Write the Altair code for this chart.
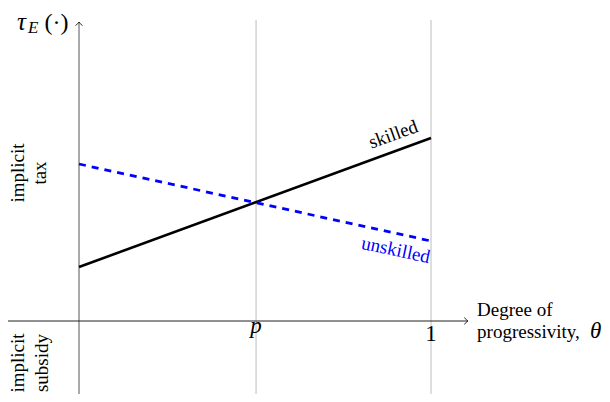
import altair as alt
import pandas as pd

# ---- data ----
theta = [0.0, 1.0]
skilled = [0.54, 1.83]
unskilled = [1.57, 0.80]
p_value = 0.503
tick_positions = [p_value, 1.0]
tick_labels = ["p", "1"]

# ---- scales (plot area 594 x 386, page 610 x 402 with 8px margin) ----
W, H = 594, 386
XMIN, XMAX = -71 / 352, (W - 71) / 352
YMIN, YMAX = -(H - 313) / 100, 313 / 100
xs = alt.Scale(domain=[XMIN, XMAX], nice=False, zero=False)
ys = alt.Scale(domain=[YMIN, YMAX], nice=False, zero=False)
SERIF = "Liberation Serif"


def X(f="x", **kw):
    return alt.X(f"{f}:Q", scale=xs, axis=None, **kw)


def Y(f="y", **kw):
    return alt.Y(f"{f}:Q", scale=ys, axis=None, **kw)


# vertical guides at p and 1
guides = alt.Chart(pd.DataFrame({"x": tick_positions, "y": [YMIN] * 2, "y2": [3.01] * 2})).mark_rule(
    color="#c8c8c8", strokeWidth=1.2
).encode(x=X(), y=Y(), y2="y2:Q")

# axes
yaxis = alt.Chart(pd.DataFrame({"x": [0.0], "y": [YMIN], "y2": [2.99]})).mark_rule(
    color="#555555", strokeWidth=1
).encode(x=X(), y=Y(), y2="y2:Q")
xaxis = alt.Chart(pd.DataFrame({"x": [XMIN], "x2": [1.105], "y": [0.0]})).mark_rule(
    color="#222222", strokeWidth=1
).encode(x=X(), x2="x2:Q", y=Y())

arrow_path = "M-1,1.1Q-0.35,0.45 0,0Q0.35,0.45 1,1.1"
arrows = alt.Chart(pd.DataFrame({"x": [0.0, 1.105], "y": [2.99, 0.0], "a": [0, 90]})).mark_point(
    shape=arrow_path, filled=False, stroke="#222222", strokeWidth=1, size=45, opacity=1
).encode(x=X(), y=Y(), angle=alt.Angle("a:Q", scale=None))

# series
df = pd.DataFrame({"theta": theta * 2, "val": skilled + unskilled,
                   "grp": ["skilled"] * 2 + ["unskilled"] * 2})
sk = alt.Chart(df[df.grp == "skilled"]).mark_line(color="black", strokeWidth=2.6).encode(
    x=X("theta"), y=Y("val"))
un = alt.Chart(df[df.grp == "unskilled"]).mark_line(
    color="#0000ff", strokeWidth=2.8, strokeDash=[7, 6]).encode(x=X("theta"), y=Y("val"))


def txt(x, y, s, size=19, color="black", angle=0, align="center", baseline="middle", style="normal"):
    return alt.Chart(pd.DataFrame({"x": [x], "y": [y], "t": [s]})).mark_text(
        font=SERIF, fontSize=size, color=color, angle=angle, align=align,
        baseline=baseline, fontStyle=style
    ).encode(x=X(), y=Y(), text="t:N")


texts = [
    txt(-0.176, 2.91, "τ", size=25, align="left", baseline="alphabetic", style="italic"),
    txt(-0.145, 2.88, "E", size=17, align="left", baseline="alphabetic", style="italic"),
    txt(-0.098, 2.91, "(·)", size=24, align="left", baseline="alphabetic"),
    txt(-0.173, 1.48, "implicit", angle=270),
    txt(-0.110, 1.48, "tax", angle=270),
    txt(-0.173, -0.42, "implicit", angle=270),
    txt(-0.106, -0.42, "subsidy", angle=270),
    txt(0.893, 1.865, "skilled", angle=340),
    txt(0.900, 0.71, "unskilled", color="#0000ff", angle=12),
    txt(1.131, 0.05, "Degree of", align="left", baseline="alphabetic"),
    txt(1.131, -0.17, "progressivity,", align="left", baseline="alphabetic"),
    txt(1.452, -0.17, "θ", size=23, align="left", baseline="alphabetic", style="italic"),
    # tick labels at p and 1
    txt(tick_positions[0], -0.12, tick_labels[0], size=23, baseline="alphabetic", style="italic"),
    txt(tick_positions[1], -0.20, tick_labels[1], size=23, baseline="alphabetic"),
]

chart = alt.layer(guides, yaxis, xaxis, sk, un, arrows, *texts).properties(
    width=W, height=H, padding=0, autosize=alt.AutoSizeParams(type="none")
).configure_view(stroke=None)

chart.save("out.html", embed_options={"renderer": "svg", "actions": False})
